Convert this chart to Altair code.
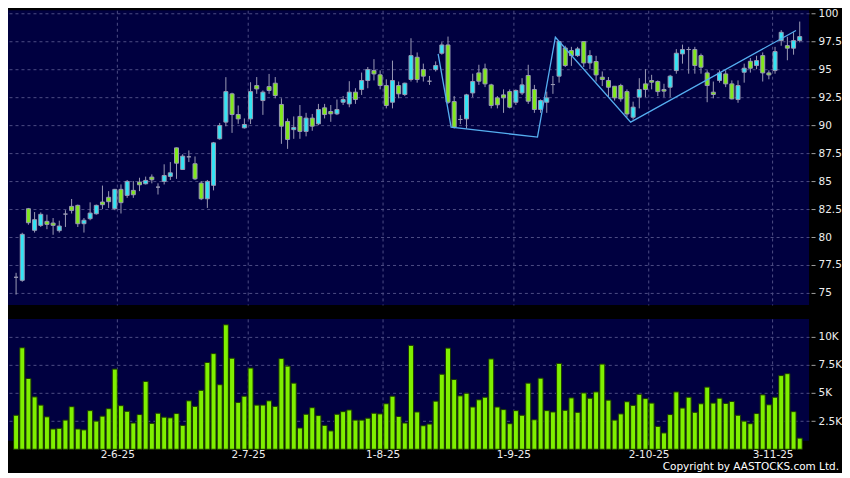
import altair as alt
import numpy as np
import pandas as pd

# ---- data (128 trading days) ----
opens = [76.4, 76.13, 82.53, 80.6, 81.04, 81.4, 81.25, 80.57, 82.05, 82.74,
         82.83, 81.19, 81.64, 82.08, 83.13, 83.55, 82.53, 84.26, 83.72, 84.17,
         84.91, 84.76, 85.36, 84.46, 84.97, 85.42, 87.97, 86.04, 87.17, 86.55,
         84.82, 83.42, 84.62, 88.78, 90.27, 92.8, 90.95, 89.76, 90.56, 93.54,
         92.2, 93.45, 93.75, 91.85, 90.33, 89.6, 90.78, 89.44, 90.63, 90.12,
         91.55, 91.22, 91.01, 92.05, 91.9, 92.95, 93.19, 93.99, 94.88, 94.5,
         93.54, 92.05, 93.54, 92.74, 94.08, 96.07, 94.97, 93.93, 94.97, 96.43,
         97.17, 92.11, 90.51, 90.56, 92.88, 94.67, 95.03, 93.6, 92.44, 92.71,
         93.0, 92.05, 92.88, 94.44, 93.19, 91.4, 92.05, 93.63, 94.38, 96.9,
         96.67, 96.22, 97.47, 95.56, 95.69, 94.29, 93.99, 93.48, 93.54, 93.0,
         90.71, 92.5, 93.69, 93.99, 93.9, 93.19, 93.39, 94.88, 96.37, 96.76,
         96.76, 96.22, 94.67, 92.95, 93.99, 94.58, 93.69, 92.29, 94.73, 95.71,
         95.33, 96.22, 94.67, 94.88, 97.56, 97.11, 96.88, 97.56]
highs = [76.8, 80.38, 82.6, 82.23, 82.2, 82.0, 81.7, 81.46, 82.4, 83.4,
         82.9, 81.7, 83.1, 82.9, 84.6, 84.1, 84.3, 84.7, 85.1, 85.0,
         85.3, 85.4, 85.6, 84.8, 86.5, 86.7, 88.0, 87.4, 87.74, 87.2,
         85.0, 85.1, 88.5, 90.2, 94.29, 92.9, 91.76, 90.6, 93.84, 94.3,
         93.1, 94.58, 94.3, 92.4, 90.6, 90.78, 91.8, 91.1, 91.0, 91.9,
         91.9, 91.8, 92.29, 92.6, 93.93, 93.3, 94.7, 95.2, 95.9, 94.9,
         94.1, 95.77, 93.9, 93.8, 97.77, 96.5, 95.5, 94.4, 95.7, 97.41,
         97.92, 92.6, 90.9, 92.8, 94.6, 95.4, 95.5, 93.7, 92.6, 93.2,
         93.2, 93.2, 94.2, 95.4, 93.6, 92.3, 93.0, 94.4, 97.5, 97.1,
         97.0, 97.0, 97.5, 96.7, 96.2, 94.8, 94.3, 93.5, 93.7, 93.2,
         92.1, 94.2, 95.0, 94.5, 94.0, 93.7, 94.5, 96.8, 97.2, 97.0,
         97.0, 96.4, 94.9, 93.9, 94.9, 94.9, 94.0, 94.0, 95.5, 96.0,
         96.2, 96.5, 94.9, 97.0, 98.5, 97.9, 98.3, 99.26]
lows = [74.85, 76.0, 81.1, 80.4, 80.9, 80.7, 80.2, 80.4, 80.9, 82.1,
        80.9, 80.4, 81.5, 82.0, 82.5, 82.6, 82.4, 82.1, 83.5, 83.5,
        84.1, 84.7, 84.8, 83.8, 84.7, 85.1, 85.2, 86.0, 86.7, 85.1,
        83.3, 82.6, 84.17, 88.7, 89.9, 89.31, 90.12, 89.7, 90.1, 92.8,
        90.92, 92.8, 92.4, 88.33, 87.88, 88.78, 88.78, 89.0, 89.5, 90.0,
        90.6, 90.3, 90.9, 91.8, 91.6, 91.9, 92.7, 93.3, 94.0, 93.2,
        91.5, 91.5, 92.4, 92.6, 93.9, 93.8, 93.9, 93.6, 94.8, 96.3,
        91.9, 89.7, 90.1, 89.7, 92.5, 93.6, 93.4, 91.5, 91.5, 91.1,
        91.5, 91.8, 92.7, 91.9, 91.1, 91.1, 91.1, 92.8, 93.8, 95.2,
        95.3, 96.1, 95.2, 95.0, 93.9, 93.5, 92.5, 92.2, 92.1, 90.7,
        90.5, 91.5, 92.5, 93.2, 92.6, 92.5, 92.5, 94.6, 95.5, 94.6,
        94.6, 94.6, 92.05, 92.4, 93.8, 93.4, 92.3, 92.0, 93.8, 94.7,
        95.0, 93.9, 94.1, 94.6, 97.1, 95.8, 96.3, 97.4]
closes = [76.4, 80.24, 81.28, 81.55, 82.03, 81.13, 81.04, 80.98, 82.05, 82.38,
          81.19, 81.5, 82.14, 82.83, 82.89, 83.16, 84.26, 83.07, 84.97, 83.78,
          84.67, 85.06, 85.12, 84.46, 85.5, 85.74, 86.6, 87.23, 87.17, 85.2,
          83.42, 84.97, 88.42, 89.97, 93.0, 90.95, 90.56, 90.06, 93.0, 93.24,
          92.95, 93.1, 92.65, 89.91, 88.72, 89.8, 89.44, 90.63, 89.91, 91.4,
          90.95, 91.01, 91.4, 92.29, 92.95, 92.29, 93.99, 94.97, 94.58, 93.54,
          91.76, 93.99, 92.8, 93.75, 96.22, 94.08, 94.38, 93.93, 95.33, 97.17,
          92.05, 89.82, 90.51, 92.71, 93.9, 93.93, 93.69, 91.76, 91.82, 92.44,
          91.6, 93.1, 93.6, 92.14, 91.4, 92.2, 92.44, 93.63, 97.47, 95.33,
          96.22, 96.82, 95.56, 96.22, 94.49, 94.08, 93.39, 92.44, 92.35, 91.0,
          91.61, 93.19, 93.19, 93.84, 93.0, 93.04, 94.38, 96.43, 96.76, 96.76,
          95.33, 95.18, 93.54, 92.74, 94.67, 93.69, 92.35, 93.54, 95.09, 95.09,
          95.77, 94.67, 94.49, 96.58, 98.3, 96.88, 97.56, 97.92]
volumes = [3020, 9010, 6280, 4650, 3920, 2880, 1800, 1860, 2590, 3780,
           1800, 1720, 3430, 2500, 2940, 3600, 7120, 3870, 3370, 2330,
           3080, 6020, 2300, 3200, 2850, 2790, 3170, 2120, 4300, 3810,
           5230, 7700, 8490, 5730, 11050, 8080, 4160, 4710, 7210, 3920,
           3920, 4300, 3810, 8050, 7380, 5870, 1890, 3110, 3690, 2990,
           2120, 1630, 3110, 3340, 3490, 2590, 2590, 2760, 3200, 3140,
           4040, 4710, 2910, 2330, 9220, 3310, 2090, 2240, 4270, 6660,
           8980, 6190, 4740, 4970, 3750, 4390, 4620, 8020, 3750, 3520,
           2270, 3430, 3020, 5870, 2620, 6310, 3430, 3310, 7620, 3460,
           4560, 3280, 5000, 4530, 5090, 7560, 4360, 2590, 3140, 4220,
           3900, 4880, 4500, 4100, 2030, 1450, 3080, 5090, 3660, 4620,
           3280, 4040, 5520, 4100, 4530, 4070, 4240, 3020, 2500, 2270,
           3170, 4830, 3950, 4620, 6540, 6710, 3340, 990]

date_labels = ["2-6-25", "2-7-25", "1-8-25", "1-9-25", "2-10-25", "3-11-25"]
date_positions = [16.4, 37.6, 59.4, 80.6, 102.5, 122.6]

pattern_idx = [68.4, 70.5, 84.5, 87.4, 99.6, 126.4]
pattern_price = [96.37, 89.82, 88.93, 97.86, 90.27, 98.46]

price_ticks = [75, 77.5, 80, 82.5, 85, 87.5, 90, 92.5, 95, 97.5, 100]
vol_ticks = [2500, 5000, 7500, 10000]
copyright_text = "Copyright by AASTOCKS.com Ltd."

# ---- tables ----
n = len(opens)
df = pd.DataFrame({"i": np.arange(n), "open": opens, "high": highs,
                   "low": lows, "close": closes, "volume": volumes})
df["dir"] = np.where(df["close"] >= df["open"], "up", "down")
pat = pd.DataFrame({"i": pattern_idx, "p": pattern_price})

W = 802
H1 = 295
H2 = 122
FONT = "DejaVu Sans"

xscale = alt.Scale(domain=[-0.5, 127.7], nice=False, zero=False)

label_expr = "''"
for pos, lab in reversed(list(zip(date_positions, date_labels))):
    label_expr = f"abs(datum.value - {pos}) < 0.5 ? '{lab}' : ({label_expr})"

x_price_axis = alt.Axis(values=date_positions, labels=False, ticks=False,
                        grid=True, domain=False, tickCount=30)
x_vol_axis = alt.Axis(values=date_positions, labelExpr=label_expr,
                      ticks=True, tickSize=4, grid=True, domain=False,
                      labelPadding=5, labelFlush=False,
                      labelOverlap=False, tickCount=30)

yscale = alt.Scale(domain=[73.93, 100.27], nice=False, zero=False)
y_axis = alt.Axis(orient="right", values=price_ticks, tickCount=30,
                  labelExpr="replace(format(datum.value, '.1f'), '.0', '')",
                  labelOverlap=False, grid=True, domain=False,
                  tickSize=4, offset=2, labelPadding=3)

base = alt.Chart(df)
wicks = base.mark_rule(color="#9a9ab4", strokeWidth=1).encode(
    x=alt.X("i:Q", scale=xscale, title=None, axis=x_price_axis),
    y=alt.Y("low:Q", scale=yscale, axis=y_axis, title=None),
    y2="high:Q",
)
bodies = base.mark_bar(size=4, stroke="#9a9ab4", strokeWidth=1).encode(
    x=alt.X("i:Q", scale=xscale, title=None, axis=x_price_axis),
    y=alt.Y("open:Q", scale=yscale, title=None, axis=y_axis),
    y2="close:Q",
    color=alt.Color("dir:N", scale=alt.Scale(domain=["up", "down"],
                                              range=["#33e4f4", "#80e81c"]),
                    legend=None),
)
pattern = alt.Chart(pat).mark_line(color="#55aef0", strokeWidth=1.3).encode(
    x=alt.X("i:Q", scale=xscale, title=None, axis=x_price_axis),
    y=alt.Y("p:Q", scale=yscale, title=None, axis=y_axis),
    order="i:Q",
)
price = alt.layer(wicks, bodies, pattern).properties(width=W, height=H1)

vscale = alt.Scale(domain=[756, 11570], nice=False, zero=False)
vbars = base.mark_bar(size=5, color="#7ff000", stroke="#1c3a00", strokeWidth=1).encode(
    x=alt.X("i:Q", scale=xscale, title=None, axis=x_vol_axis),
    y=alt.Y("volume:Q", scale=vscale, title=None,
            axis=alt.Axis(orient="right", values=vol_ticks, tickCount=30,
                          labelExpr="format(datum.value / 1000, '~g') + 'K'",
                          labelOverlap=False, grid=True, domain=False,
                          tickSize=4, offset=2, labelPadding=3)),
    y2=alt.value(H2),
)
credit = alt.Chart(pd.DataFrame({"t": [copyright_text]})).mark_text(
    align="right", baseline="middle", color="#ffffff", font=FONT, fontSize=10.5
).encode(x=alt.value(W + 30), y=alt.value(H2 + 26), text="t:N")
volume = alt.layer(vbars, credit).properties(width=W, height=H2)

chart = alt.vconcat(price, volume, spacing=14).properties(
    padding=0, background="#000000"
).configure_view(
    fill="#000040", strokeWidth=0
).configure_axis(
    gridColor="#4c4c84", gridDash=[3, 3], gridWidth=1,
    labelColor="#eeeeee", labelFont=FONT, labelFontSize=10.5,
    tickColor="#a0a0a0", domain=False
)

chart.save("out.html", embed_options={"renderer": "svg", "actions": False})
